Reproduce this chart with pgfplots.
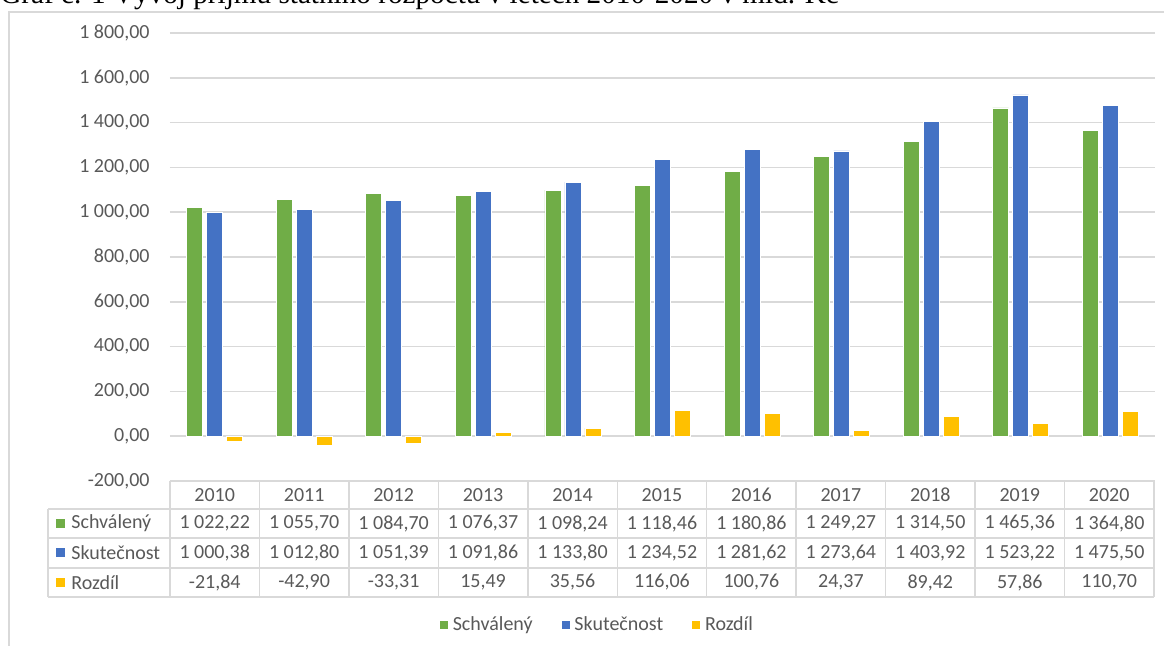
\documentclass[border=0pt]{standalone}
\usepackage{pgfplots}
\pgfplotsset{compat=1.18}
\usepackage{pgfplotstable}
\usepackage{fontspec}
\setmainfont{Carlito}
\newfontfamily\titlefont{Liberation Serif}

\definecolor{cschv}{HTML}{70AD47}
\definecolor{cskut}{HTML}{4472C4}
\definecolor{crozd}{HTML}{FFC000}
\definecolor{txtgray}{HTML}{595959}
\definecolor{gridgray}{HTML}{D9D9D9}

% prijmy statniho rozpoctu v mld. Kc
\pgfplotstableread{
x year schv skut rozd
0 2010 1022.22 1000.38 -21.84
1 2011 1055.70 1012.80 -42.90
2 2012 1084.70 1051.39 -33.31
3 2013 1076.37 1091.86 15.49
4 2014 1098.24 1133.80 35.56
5 2015 1118.46 1234.52 116.06
6 2016 1180.86 1281.62 100.76
7 2017 1249.27 1273.64 24.37
8 2018 1314.50 1403.92 89.42
9 2019 1465.36 1523.22 57.86
10 2020 1364.80 1475.50 110.70
}\datatable

\pgfkeys{/pgf/number format/czk/.style={assume math mode=true, fixed, fixed zerofill, precision=2, use comma, 1000 sep={\ }}}

\begin{document}
\begin{tikzpicture}[font=\fontsize{10}{12}\selectfont]
\clip (0,0) rectangle (582pt,-323pt);
\begin{axis}[
    at={(85pt,-240.5pt)}, anchor=south west,
    scale only axis, width=492.5pt, height=224pt,
    ybar=2pt, bar width=8pt,
    xmin=-0.5, xmax=10.5,
    ymin=-200, ymax=1800,
    ytick={-200,0,200,400,600,800,1000,1200,1400,1600,1800},
    xtick=\empty,
    axis line style={draw=none},
    major tick length=0pt,
    ymajorgrids,
    grid style={gridgray, line width=0.75pt},
    yticklabel={\pgfmathprintnumber[czk]{\tick}},
    yticklabel style={text=txtgray, inner sep=0pt, xshift=-10pt},
    legend style={at={(0.4345,-0.321)}, anchor=center, draw=none,
        text=txtgray, legend columns=3,
        /tikz/every even column/.append style={column sep=12pt}},
    legend image code/.code={\fill[#1] (0pt,-2.25pt) rectangle (4.5pt,2.25pt);},
]
\addplot[fill=cschv, draw=white, line width=0.4pt] table[x=x, y=schv]{\datatable};
\addplot[fill=cskut, draw=white, line width=0.4pt] table[x=x, y=skut]{\datatable};
\addplot[fill=crozd, draw=white, line width=0.4pt] table[x=x, y=rozd]{\datatable};
\legend{Schválený, Skutečnost, Rozdíl}
\end{axis}

\begin{scope}[x=0.5pt, y=-0.5pt]
  % ramecek grafu a nadpis
  \draw[gridgray, line width=0.75pt] (9,700) -- (9,12) -- (1200,12);
  \node[anchor=base west, inner sep=0pt, font=\titlefont\fontsize{14.6}{16}\selectfont]
    at (0,4) {Graf č. 1 Vývoj příjmů státního rozpočtu v letech 2010-2020 v mld. Kč};

  % tabulka dat
  \begin{scope}[gridgray, line width=0.75pt]
    \draw (170,481) -- (1154,481);
    \foreach \yy in {509,538,568,597} \draw (48,\yy) -- (1154,\yy);
    \draw (48,509) -- (48,597);
    \foreach \i in {0,...,11} \draw ({170+89.45*\i},481) -- ({170+89.45*\i},597);
  \end{scope}

  \fill[cschv] (56,519) rectangle (65,528);
  \fill[cskut] (56,548.5) rectangle (65,557.5);
  \fill[crozd] (56,578) rectangle (65,587);
  \node[anchor=west, inner sep=0pt, text=txtgray] at (71,523.5) {Schválený};
  \node[anchor=west, inner sep=0pt, text=txtgray] at (71,553) {Skutečnost};
  \node[anchor=west, inner sep=0pt, text=txtgray] at (71,582.5) {Rozdíl};

  \foreach \i in {0,...,10} {
    \pgfmathsetmacro\cx{170+89.45*(\i+0.5)}
    \pgfplotstablegetelem{\i}{year}\of\datatable
    \node[text=txtgray] at (\cx,495) {\pgfplotsretval};
    \pgfplotstablegetelem{\i}{schv}\of\datatable
    \node[text=txtgray] at (\cx,523.5) {\pgfmathprintnumber[czk]{\pgfplotsretval}};
    \pgfplotstablegetelem{\i}{skut}\of\datatable
    \node[text=txtgray] at (\cx,553) {\pgfmathprintnumber[czk]{\pgfplotsretval}};
    \pgfplotstablegetelem{\i}{rozd}\of\datatable
    \node[text=txtgray] at (\cx,582.5) {\pgfmathprintnumber[czk]{\pgfplotsretval}};
  }
\end{scope}
\end{tikzpicture}
\end{document}
